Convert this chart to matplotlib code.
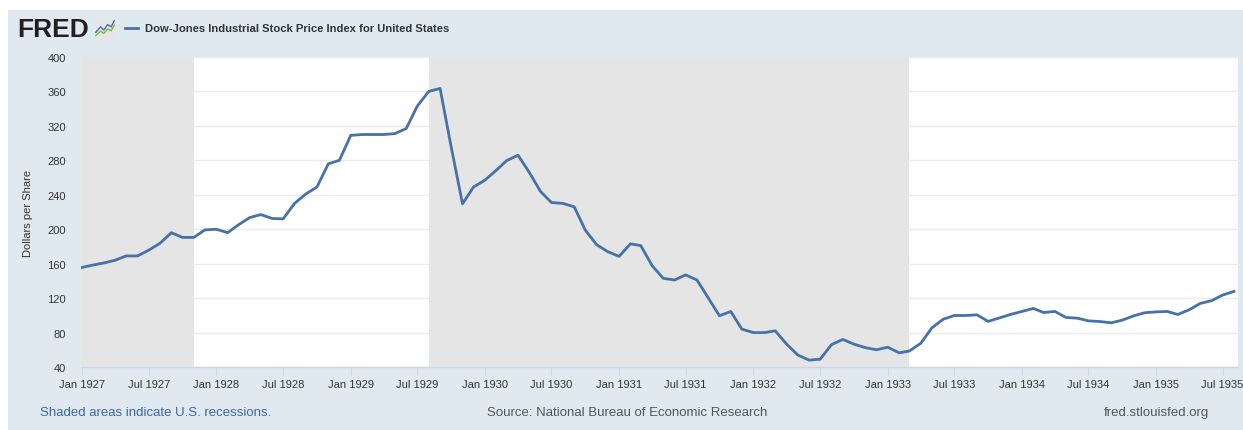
import numpy as np
import pandas as pd
import matplotlib
matplotlib.use("Agg")
from matplotlib import pyplot as plt
import matplotlib.dates as mdates
from matplotlib.patches import Rectangle, FancyBboxPatch

plt.rcParams['font.family'] = ['Liberation Sans', 'DejaVu Sans']

# monthly values, Jan 1927 - Aug 1935
values = [
    155.7, 158.5, 160.8, 164.0, 169.0, 169.0, 175.6, 183.7, 196.0, 190.5, 190.5, 199.2,  # 1927
    200.0, 196.0, 205.0, 213.5, 217.0, 212.5, 212.0, 230.0, 241.0, 249.0, 276.0, 280.0,  # 1928
    309.0, 310.0, 310.0, 310.0, 311.0, 317.0, 343.0, 360.0, 363.5, 296.0, 229.5, 249.0,  # 1929
    257.0, 268.5, 279.6, 286.0, 266.5, 244.0, 231.0, 230.0, 226.0, 199.0, 182.0, 174.0,  # 1930
    168.5, 183.0, 181.0, 157.7, 143.0, 141.0, 147.0, 141.0, 120.0, 99.5, 104.5, 84.0,    # 1931
    80.0, 80.0, 82.0, 66.5, 54.0, 48.0, 49.0, 66.0, 72.0, 66.5, 62.5, 60.0,              # 1932
    63.0, 56.5, 58.6, 67.6, 85.4, 95.5, 99.8, 99.8, 100.6, 93.0, 97.0, 101.0,            # 1933
    104.5, 108.0, 103.3, 104.5, 97.5, 96.7, 93.6, 92.8, 91.3, 94.4, 99.4, 103.0,         # 1934
    104.0, 104.5, 101.0, 106.4, 113.8, 117.0, 123.5, 127.8,                              # 1935
]
dates = pd.date_range("1927-01-01", periods=len(values), freq="MS")

recessions = [("1926-10-01", "1927-11-01"), ("1929-08-01", "1933-03-01")]
yticks = [40, 80, 120, 160, 200, 240, 280, 320, 360, 400]

title = "Dow-Jones Industrial Stock Price Index for United States"
ylabel = "Dollars per Share"

W, H = 1243, 431
fig = plt.figure(figsize=(W / 100, H / 100), dpi=100)
fig.patch.set_facecolor("white")
bg = "#e1e9f0"
fig.patches.append(Rectangle((8 / W, 0), (W - 8) / W, (H - 11) / H,
                             transform=fig.transFigure, facecolor=bg,
                             edgecolor="none", zorder=-10))

ax = fig.add_axes([81 / W, 1 - 368 / H, (1238 - 81) / W, (368 - 58) / H])
ax.set_facecolor("white")

x0 = pd.Timestamp("1927-01-01") - pd.Timedelta(days=3)
x1 = pd.Timestamp("1935-08-01") + pd.Timedelta(days=11)
for a, b in recessions:
    ax.axvspan(max(pd.Timestamp(a), x0), pd.Timestamp(b), color="#e5e5e5",
               zorder=1, lw=0)

ax.plot(dates, values, color="#4572a7", lw=2, zorder=3, solid_joinstyle="round")

ax.set_xlim(x0, x1)
ax.set_ylim(40, 400)
ax.set_yticks(yticks)
ax.yaxis.grid(True, color="#ececec", lw=1, zorder=0)
ax.set_axisbelow(True)

ax.xaxis.set_major_locator(mdates.MonthLocator(bymonth=[1, 7]))
ax.xaxis.set_major_formatter(mdates.DateFormatter("%b %Y"))

for s in ["top", "right", "left"]:
    ax.spines[s].set_visible(False)
ax.spines["bottom"].set_color("#ccd6eb")
ax.spines["bottom"].set_linewidth(1)
ax.tick_params(axis="x", length=6, color="#ccd6eb", labelsize=8,
               labelcolor="#333333", pad=3)
ax.tick_params(axis="y", length=0, labelsize=8, labelcolor="#333333", pad=11)
ax.set_ylabel(ylabel, fontsize=8, color="#333333", labelpad=10)

# header: FRED logo + legend title
fig.text(17 / W, 1 - 30 / H, "FRED", fontsize=19, fontweight="bold",
         color="#231f20", va="center", ha="left")
iax = fig.add_axes([94 / W, 1 - 41 / H, 22 / W, 22 / H])
iax.set_xlim(0, 1)
iax.set_ylim(0, 1)
iax.axis("off")
iax.add_patch(FancyBboxPatch((0.03, 0.03), 0.94, 0.94,
                             boxstyle="round,pad=0,rounding_size=0.15",
                             facecolor="#e6e6e6", edgecolor="none"))
iax.plot([0.08, 0.3, 0.45, 0.62, 0.78, 0.92], [0.35, 0.6, 0.45, 0.7, 0.6, 0.88],
         color="#4572a7", lw=1)
iax.plot([0.08, 0.3, 0.45, 0.62, 0.78, 0.92], [0.2, 0.4, 0.3, 0.5, 0.42, 0.68],
         color="#7ab648", lw=1)

fig.lines.append(plt.Line2D([125 / W, 138 / W], [1 - 29 / H, 1 - 29 / H],
                            transform=fig.transFigure, color="#4572a7", lw=2))
fig.text(145 / W, 1 - 29 / H, title, fontsize=8.1, fontweight="bold",
         color="#333333", va="center", ha="left")

# footer
fig.text(40 / W, 1 - 413 / H, "Shaded areas indicate U.S. recessions.",
         fontsize=9.5, color="#3a66a8", va="center", ha="left")
fig.text(627 / W, 1 - 413 / H, "Source: National Bureau of Economic Research",
         fontsize=9.5, color="#555555", va="center", ha="center")
fig.text(1209 / W, 1 - 413 / H, "fred.stlouisfed.org",
         fontsize=9.5, color="#555555", va="center", ha="right")

fig.savefig("out.png", dpi=100)
